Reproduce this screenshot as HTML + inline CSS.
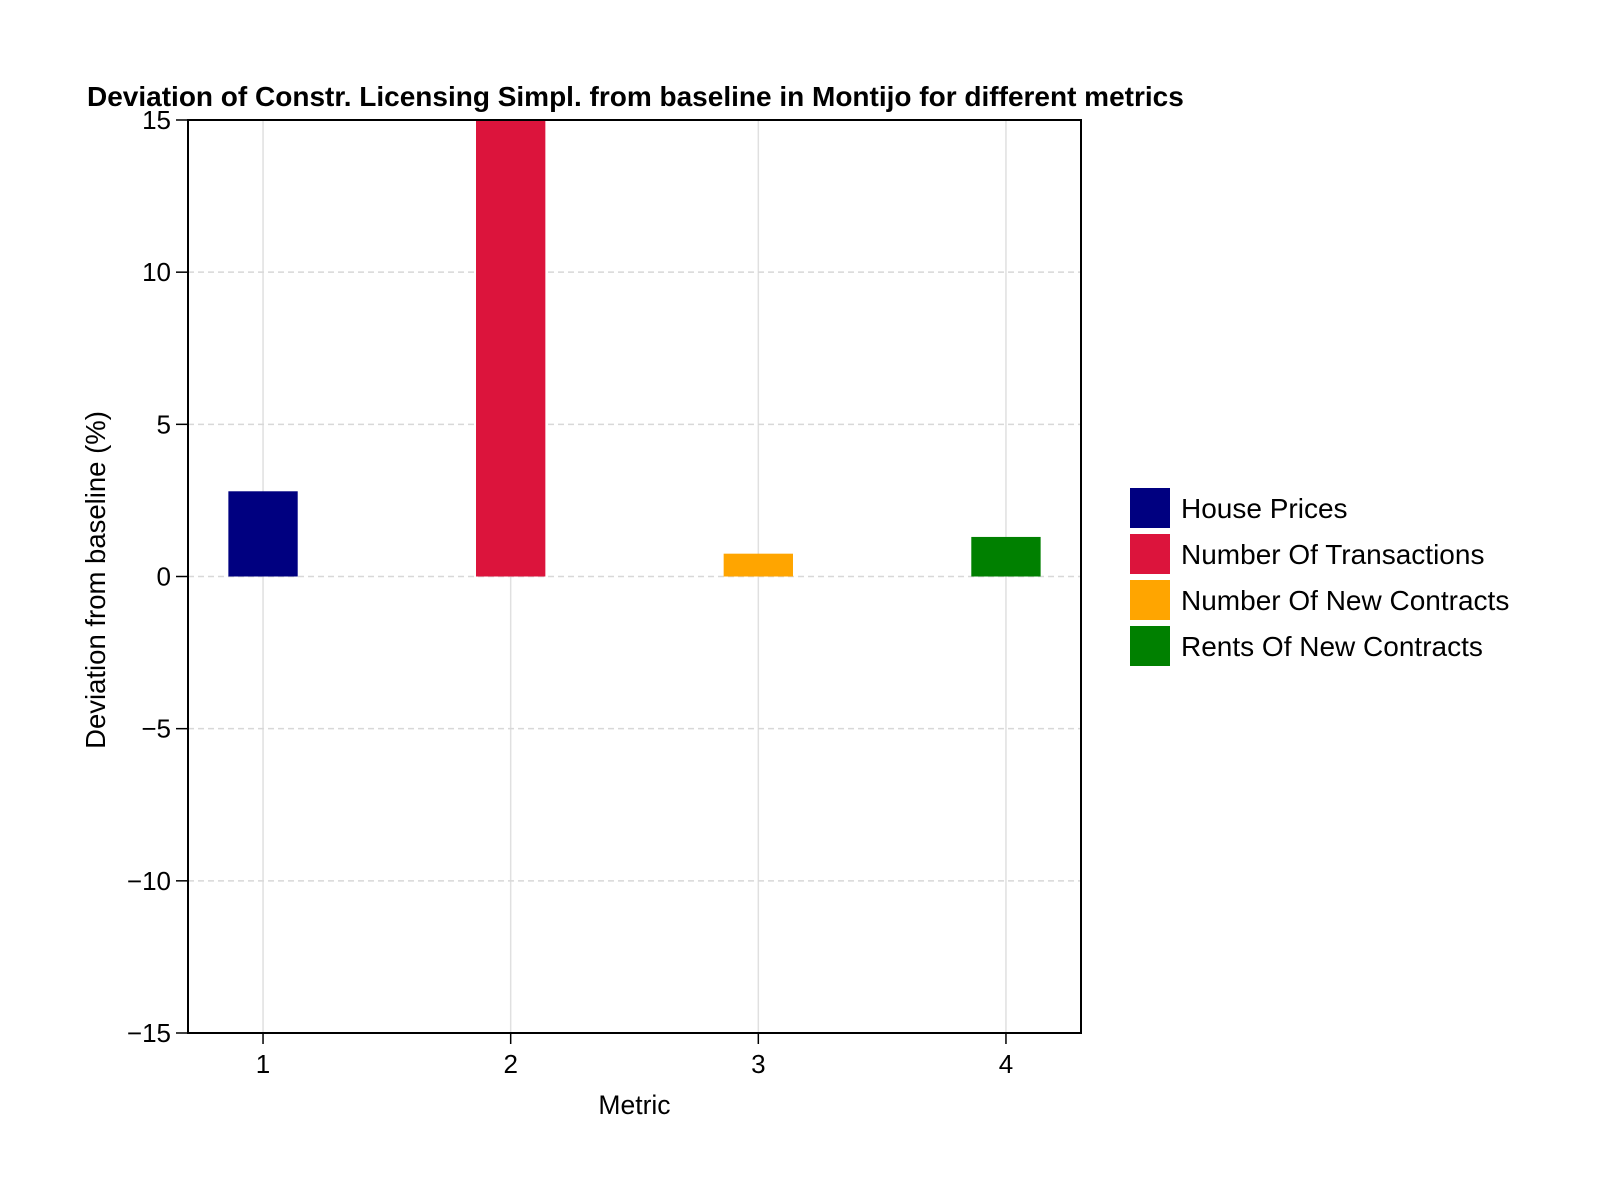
<!DOCTYPE html>
<html><head><meta charset="utf-8"><style>
html,body{margin:0;padding:0;background:#fff;}
svg{display:block;font-family:"Liberation Sans",sans-serif;}
</style></head><body>
<svg id="chart" width="1600" height="1200" viewBox="0 0 1600 1200"></svg>
<script>
const categories = [1, 2, 3, 4];
const seriesNames = ["House Prices", "Number Of Transactions", "Number Of New Contracts", "Rents Of New Contracts"];
const values = [2.8, 16, 0.75, 1.3];
const colors = ["#000080", "#dc143c", "#ffa500", "#008000"];
const yTicks = [-15, -10, -5, 0, 5, 10, 15];
const yTickLabels = ["−15", "−10", "−5", "0", "5", "10", "15"];

const NS = "http://www.w3.org/2000/svg";
const svg = document.getElementById("chart");
const L = 188, R = 1081, T = 120, B = 1033;
const xMin = 0.697, xMax = 4.303, yMin = -15, yMax = 15;
const xs = v => L + (v - xMin) / (xMax - xMin) * (R - L);
const ys = v => B - (v - yMin) / (yMax - yMin) * (B - T);
function mk(tag, attrs, parent) {
  const e = document.createElementNS(NS, tag);
  for (const k in attrs) e.setAttribute(k, attrs[k]);
  (parent || svg).appendChild(e);
  return e;
}
const clip = mk("clipPath", {id: "pc"});
mk("rect", {x: L, y: T, width: R - L, height: B - T}, clip);

categories.forEach(c => {
  const g = mk("line", {x1: xs(c), x2: xs(c), y1: T, y2: B, stroke: "#e0e0e0", "stroke-width": 1.5});
  
  
});
yTicks.forEach(t => {
  const g = mk("line", {x1: L, x2: R, y1: ys(t), y2: ys(t), stroke: "#d8d8d8", "stroke-width": 1.5, "stroke-dasharray": "6,4"});
  
  
});

const bw = 0.28;
categories.forEach((c, i) => {
  const v = values[i];
  const y0 = ys(Math.max(v, 0)), y1 = ys(Math.min(v, 0));
  const r = mk("rect", {x: xs(c - bw / 2), y: y0, width: xs(c + bw / 2) - xs(c - bw / 2), height: y1 - y0, fill: colors[i], "clip-path": "url(#pc)"});
  
  
});

const fr = mk("rect", {x: L, y: T, width: R - L, height: B - T, fill: "none", stroke: "#000", "stroke-width": 2});



yTicks.forEach((t, i) => {
  mk("line", {x1: L - 12, x2: L, y1: ys(t), y2: ys(t), stroke: "#000", "stroke-width": 1.5});
  const tx = mk("text", {x: L - 17, y: ys(t) + 9, "text-anchor": "end", "font-size": 26});
  tx.textContent = yTickLabels[i];
  
  
});
categories.forEach(c => {
  mk("line", {x1: xs(c), x2: xs(c), y1: B, y2: B + 11, stroke: "#000", "stroke-width": 1.5});
  const tx = mk("text", {x: xs(c), y: B + 40, "text-anchor": "middle", "font-size": 26});
  tx.textContent = String(c);
  
  
});

const title = mk("text", {x: 87, y: 106, "font-size": 28, "font-weight": "bold"});
title.textContent = "Deviation of Constr. Licensing Simpl. from baseline in Montijo for different metrics";



const xt = mk("text", {x: (L + R) / 2, y: 1114, "text-anchor": "middle", "font-size": 26.5});
xt.textContent = "Metric";



const yt = mk("text", {x: 0, y: 0, "text-anchor": "middle", "font-size": 27.5, transform: "translate(105,580) rotate(-90)"});
yt.textContent = "Deviation from baseline (%)";



seriesNames.forEach((n, i) => {
  const y = 488 + i * 46;
  const p = mk("rect", {x: 1130, y: y, width: 40, height: 40, fill: colors[i]});
  
  
  const tx = mk("text", {x: 1181, y: y + 30, "font-size": 28});
  tx.textContent = n;
  
  
});
</script>
</body></html>
